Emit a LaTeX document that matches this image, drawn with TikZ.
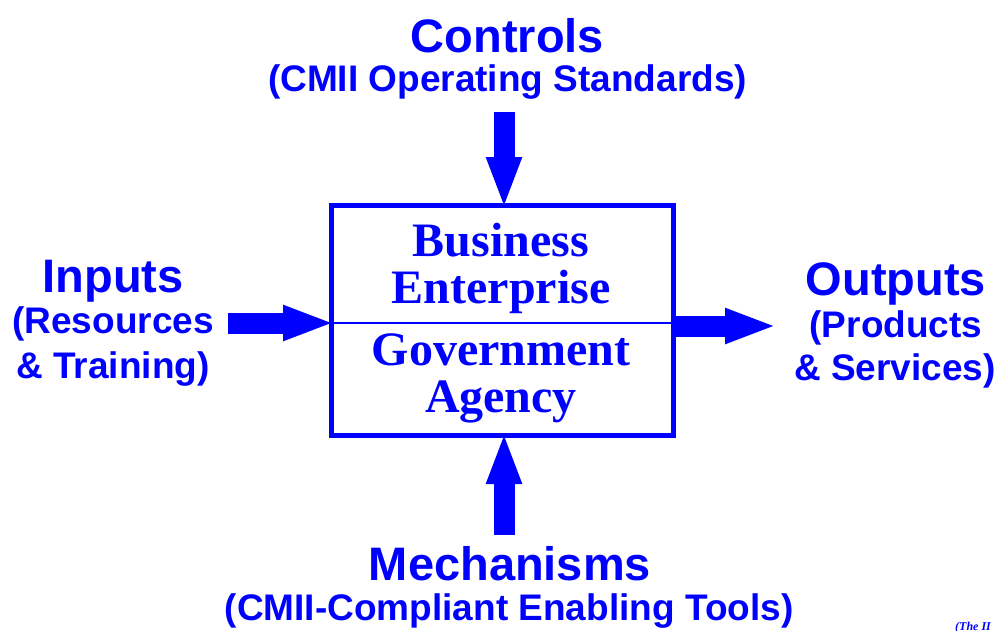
\documentclass[tikz,border=0pt]{standalone}
\usepackage{fontspec}
\setmainfont{Liberation Serif}
\newfontfamily\helv{Liberation Sans}
\usetikzlibrary{arrows.meta,positioning}
\definecolor{idefblue}{RGB}{0,0,255}

\begin{document}
\begin{tikzpicture}[x=1pt,y=-1pt,
  every node/.style={text=idefblue,inner sep=0pt},
  title/.style={anchor=base,font=\helv\bfseries\fontsize{47}{56}\selectfont},
  subtitle/.style={anchor=base,font=\helv\bfseries\fontsize{37}{44}\selectfont},
  boxtext/.style={anchor=base,font=\bfseries\fontsize{48}{48}\selectfont},
  fat/.style={idefblue,line width=21pt,shorten >=-6pt,-{Triangle[length=52pt,width=32pt]}}]
   \useasboundingbox (0,0) rectangle (1003,630);

   \node[draw=idefblue,line width=5pt,minimum width=342pt,minimum height=230pt] (box) at (502.5,320.5) {};
   \draw[idefblue,line width=2pt] (box.west |- 0,323) -- (box.east |- 0,323);
   \node[boxtext] (biz) at (501,256) {Business};
   \node[boxtext] (ent) at (501,303) {Enterprise};
   \node[boxtext] (gov) at (501,365) {Government};
   \node[boxtext] (agy) at (501,412) {Agency};

   \node[title] (ctrl) at (507.5,52) {Controls};
   \node[subtitle] (ctrlsub) at (507.5,91) {(CMII Operating Standards)};
   \node[title] (inp) at (113,292) {Inputs};
   \node[subtitle] (inpa) at (113,333) {(Resources};
   \node[subtitle] (inpb) at (113,378) {\& Training)};
   \node[title] (outp) at (896,295) {Outputs};
   \node[subtitle] (outa) at (896,337) {(Products};
   \node[subtitle] (outb) at (895,380) {\& Services)};
   \node[title] (mech) at (510,580) {Mechanisms};
   \node[subtitle] (mechsub) at (509,620) {(CMII-Compliant Enabling Tools)};
   \node[anchor=base west,font=\bfseries\itshape\fontsize{12}{12}\selectfont] (note) at (955,630) {(The II};

   \coordinate (ctrltail) at (504,112);
   \coordinate (mechtail) at (504,535);
   \coordinate (inptail) at (228,323);
   \coordinate (outtip) at (771,326);

   \path[fat]
    (ctrltail) edge (ctrltail |- box.north)
    (mechtail) edge (mechtail |- box.south)
    (inptail) edge (inptail -| box.west)
    (box.east |- outtip) edge (outtip);
\end{tikzpicture}
\end{document}
